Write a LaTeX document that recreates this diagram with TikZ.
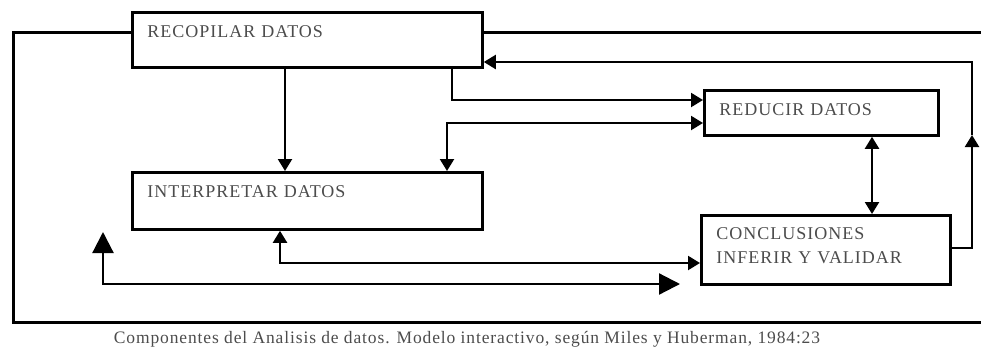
\documentclass[tikz,border=0pt]{standalone}
\usepackage{fontspec}
\usepackage{tikz}
\usetikzlibrary{arrows.meta}
\newfontfamily\boxfont{Liberation Serif}[LetterSpace=5.5]
\newfontfamily\capfont{Liberation Serif}[LetterSpace=5]

\begin{document}
\begin{tikzpicture}[x=1pt, y=-1pt,
    box/.style = {rectangle, draw, line width=2.8pt, anchor=north west, align=left,
                  inner xsep=15pt, inner ysep=10pt, text height=15pt,
                  text=black!70, font=\boxfont\fontsize{18pt}{24pt}\selectfont},
    frame/.style = {line width=3pt},
    link/.style = {line width=2.2pt, -{Triangle[length=12pt, width=14pt]}},
    twoway/.style = {line width=2.2pt, {Triangle[length=12pt, width=14pt]}-{Triangle[length=12pt, width=14pt]}},
    bigway/.style = {line width=2.2pt, {Triangle[length=21pt, width=21pt]}-{Triangle[length=21pt, width=21pt]}}]
  \useasboundingbox (0, 0) rectangle (981, 354);

  % Boxes.
  \node at (131, 11) [box, text width=320pt, text depth=20pt, name=Recopilar] {RECOPILAR DATOS};
  \node at (131, 171) [box, text width=320pt, text depth=22pt, name=Interpretar] {INTERPRETAR DATOS};
  \node at (703, 89) [box, text width=204pt, text depth=10pt, name=Reducir] {REDUCIR DATOS};
  \node at (700, 214) [box, text width=219pt, text height=, text depth=, inner ysep=6pt, minimum height=69pt, name=Conclusiones]
        {CONCLUSIONES\\INFERIR Y VALIDAR\rule[-8pt]{0pt}{0pt}};

  % Outer frame
  \coordinate (frameTL) at (13, 32);
  \coordinate (frameBL) at (13, 322);
  \coordinate (frameBR) at (981, 322);
  \coordinate (frameTR) at (981, 32);
  \draw [frame] (Recopilar.west |- frameTL) -- (frameTL) -- (frameBL) -- (frameBR);
  \draw [frame] (Recopilar.east |- frameTR) -- (frameTR);

  % Links between boxes
  \coordinate (down) at (285, 0);
  \coordinate (tap) at (452, 100);
  \coordinate (side) at (447, 123);
  \coordinate (mid) at (872, 0);
  \coordinate (low) at (280, 263);
  \coordinate (back) at (972, 248);
  \coordinate (rise) at (972, 135);
  \coordinate (top) at (0, 62);

  \draw [link] (down |- Recopilar.south) -- (down |- Interpretar.north);
  \draw [link] (tap |- Recopilar.south) |- (Reducir.west |- tap);
  \draw [twoway] (Reducir.west |- side) -| (side |- Interpretar.north);
  \draw [twoway] (mid |- Reducir.south) -- (mid |- Conclusiones.north);
  \draw [twoway] (low |- Interpretar.south) |- (Conclusiones.west |- low);
  \draw [link] (Conclusiones.east |- back) -| (rise);
  \draw [link] (rise) |- (Recopilar.east |- top);

  % Loose loop
  \coordinate (loopL) at (103, 232);
  \coordinate (loopR) at (680, 284);
  \draw [bigway] (loopL) |- (loopR);

  % Caption
  \node at (467, 339) [text=black!70, font=\capfont\fontsize{17.5pt}{19pt}\selectfont, name=Caption]
        {Componentes del Analisis de datos. Modelo interactivo, según Miles y Huberman, 1984:23};
\end{tikzpicture}
\end{document}
